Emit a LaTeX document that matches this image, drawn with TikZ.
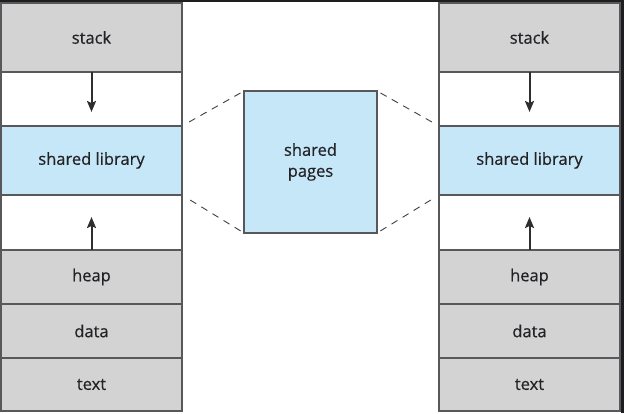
\documentclass[tikz,border=0pt]{standalone}
\usepackage{fontspec}
\setsansfont{Open Sans}[FakeBold=0.5]
\usetikzlibrary{arrows.meta,positioning}
\definecolor{segline}{RGB}{88,88,90}
\definecolor{seggray}{RGB}{211,211,212}
\definecolor{segblue}{RGB}{198,231,248}
\definecolor{segtext}{RGB}{35,35,38}
\definecolor{frame}{RGB}{30,30,32}

\begin{document}
\begin{tikzpicture}[x=1pt, y=1pt,
    every node/.style={font=\sffamily\fontsize{16.5}{21}\selectfont, text=segtext},
    seg/.style={draw=segline, line width=1.3pt, minimum width=181pt,
                inner sep=0pt, outer sep=0pt, align=center},
    grayseg/.style={seg, fill=seggray},
    blueseg/.style={seg, fill=segblue},
    freeseg/.style={seg, fill=white},
    arr/.style={-{Stealth[length=11pt, width=9pt, inset=2pt]}, line width=2pt,
                color=black!82},
    link/.style={dash pattern=on 7pt off 6pt, line width=0.9pt,
                 color=black!75, shorten <=4pt, shorten >=6pt},
  ]
  % -- screen frame -------------------------------------------
  \fill[frame] (0,0) rectangle (624,413);
  \fill[white] (0,0) rectangle (621,411);

  % -- left process -------------------------------------------
  \node[grayseg, minimum height=69pt, anchor=north] (stackL) at (91.5,410) {stack};
  \node[freeseg, minimum height=54pt, below=0pt of stackL] (freeL1) {};
  \node[blueseg, minimum height=69pt, below=0pt of freeL1] (libL) {shared library};
  \node[freeseg, minimum height=55pt, below=0pt of libL] (freeL2) {};
  \node[grayseg, minimum height=54pt, below=0pt of freeL2] (heapL) {heap};
  \node[grayseg, minimum height=54pt, below=0pt of heapL] (dataL) {data};
  \node[grayseg, minimum height=53pt, below=0pt of dataL] (textL) {text};

  % -- right process ------------------------------------------
  \node[grayseg, minimum height=69pt, anchor=north] (stackR) at (529.5,410) {stack};
  \node[freeseg, minimum height=54pt, below=0pt of stackR] (freeR1) {};
  \node[blueseg, minimum height=69pt, below=0pt of freeR1] (libR) {shared library};
  \node[freeseg, minimum height=55pt, below=0pt of libR] (freeR2) {};
  \node[grayseg, minimum height=54pt, below=0pt of freeR2] (heapR) {heap};
  \node[grayseg, minimum height=54pt, below=0pt of heapR] (dataR) {data};
  \node[grayseg, minimum height=53pt, below=0pt of dataR] (textR) {text};

  % -- physical memory ----------------------------------------
  \node[blueseg, minimum width=133pt, minimum height=142pt] (shared)
    at (310.5,251) {shared\\pages};

  % -- growth arrows ------------------------------------------
  \draw[arr] (stackL.south) -- ++(0,-40);
  \draw[arr] (heapL.north) -- ++(0,33);
  \draw[arr] (stackR.south) -- ++(0,-40);
  \draw[arr] (heapR.north) -- ++(0,33);

  % -- mappings -----------------------------------------------
  \draw[link] (shared.north west) -- (libL.north east);
  \draw[link] (shared.south west) -- (libL.south east);
  \draw[link] (shared.north east) -- (libR.north west);
  \draw[link] (shared.south east) -- (libR.south west);
\end{tikzpicture}
\end{document}
